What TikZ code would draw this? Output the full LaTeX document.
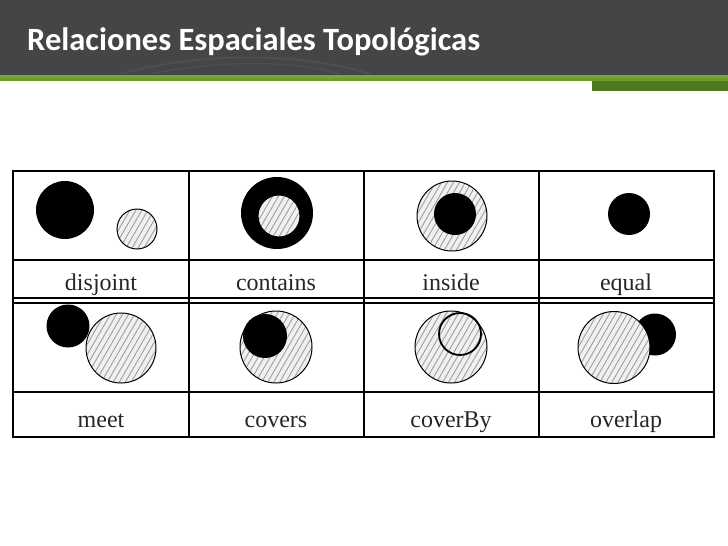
\documentclass[tikz,border=0pt]{standalone}
\usepackage{fontspec}
\setmainfont{Liberation Serif}
\newfontfamily\titlefont{Carlito}
\usetikzlibrary{calc}
\definecolor{hdrgrey}{HTML}{454547}
\definecolor{hdrarc}{HTML}{4E4E50}
\definecolor{lgreen}{HTML}{6E9B2A}
\definecolor{lgreen2}{HTML}{78A632}
\definecolor{dgreen}{HTML}{4E7A1E}
\tikzset{
  grid/.style={line width=2.6pt, line cap=rect},
  lbl/.style={font=\fontsize{24}{24}\selectfont, text=black!85, inner sep=0pt, anchor=base},
  solidc/.style={fill=black},
  ring/.style={line width=1pt, draw=black},
}
\newcommand{\hatchcirc}[3]{%
  \begin{scope}
    \clip (#1,#2) circle (#3);
    \fill[gray!12] (#1,#2) circle (#3);
    \foreach \k in {-11,...,11}
      \draw[gray!75, line width=0.9pt] ({#1+\k*6-26},{#2+45}) -- ({#1+\k*6+26},{#2-45});
  \end{scope}
  \draw[ring] (#1,#2) circle (#3);}
\begin{document}
\begin{tikzpicture}[x=1pt,y=-1pt]
\useasboundingbox (0,0) rectangle (728,546);
% header
\fill[hdrgrey] (0,0) rectangle (728,75);
\draw[hdrarc, line width=2pt] (120,74) .. controls (200,52) and (300,52) .. (370,74);
\draw[hdrarc, line width=1.5pt] (150,74) .. controls (220,60) and (290,60) .. (340,74);
\fill[lgreen2] (0,75) rectangle (728,78);
\fill[lgreen] (0,78) rectangle (728,81);
\fill[dgreen] (592,81) rectangle (728,91);
\node[anchor=base west, text=white, inner sep=0pt, font=\titlefont\bfseries\fontsize{32.5}{32.5}\selectfont] (title) at (27,50) {Relaciones Espaciales Topológicas};
% row 1 figures
\fill[solidc] (65,210) circle (29);
\hatchcirc{137}{229}{20}
\fill[solidc] (277,213) circle (36);
\hatchcirc{279}{216}{21}
\hatchcirc{452}{216}{35}
\fill[solidc] (455,214) circle (21);
\fill[solidc] (629,214) circle (21);
% row 2 figures
\fill[solidc] (68,326) circle (21.5);
\hatchcirc{121}{348}{35}
\hatchcirc{276}{347}{36}
\fill[solidc] (265,336) circle (22);
\hatchcirc{451}{347}{36}
\draw[line width=1.8pt] (460,334) circle (21);
\fill[solidc] (655,334.5) circle (21);
\hatchcirc{614}{347.5}{36}
% grid
\draw[grid] (13,171) rectangle (714,437);
\draw[grid] (13,260) -- (714,260);
\draw[grid] (13,298) -- (714,298);
\draw[grid] (13,303) -- (714,303);
\draw[grid] (13,392) -- (714,392);
\foreach \x in {189,364,539} \draw[grid] (\x,171) -- (\x,437);
% labels
\node[lbl] (l1) at (101,290) {disjoint};
\node[lbl] (l2) at (276,290) {contains};
\node[lbl] (l3) at (451,290) {inside};
\node[lbl] (l4) at (626,290) {equal};
\node[lbl] (l5) at (101,427) {meet};
\node[lbl] (l6) at (276,427) {covers};
\node[lbl] (l7) at (451,427) {coverBy};
\node[lbl] (l8) at (626,427) {overlap};
\end{tikzpicture}
\end{document}
